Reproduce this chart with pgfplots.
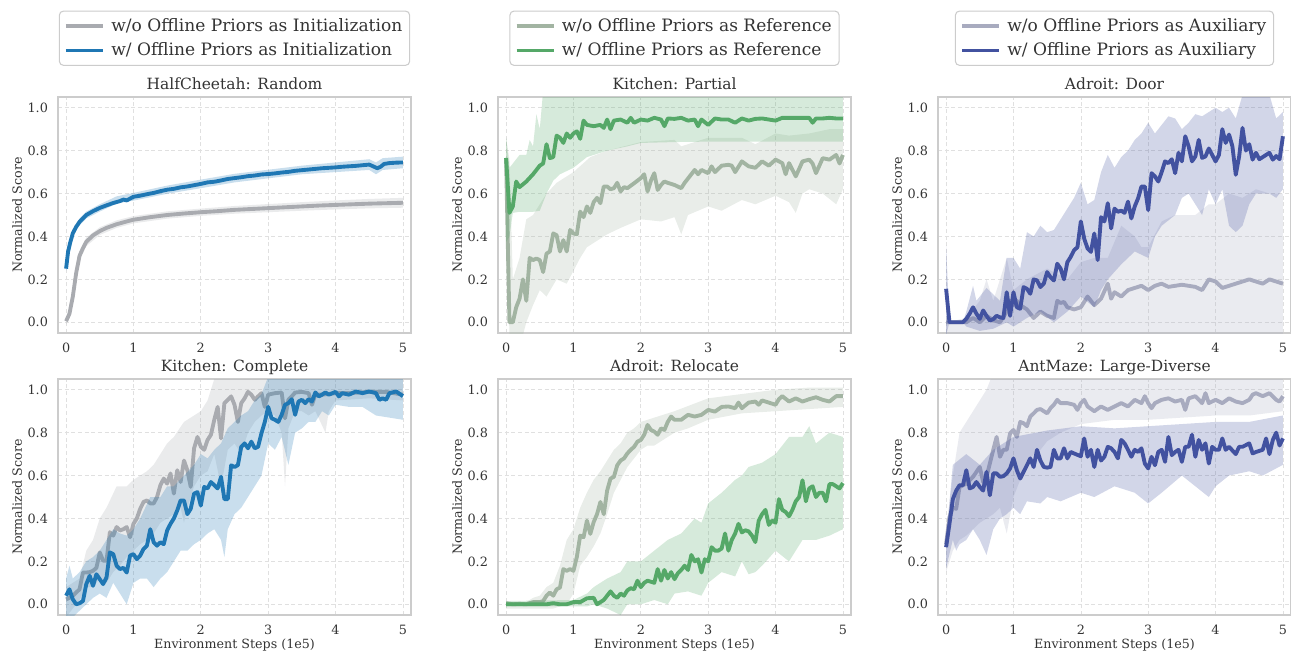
\documentclass[border=0pt]{standalone}
\usepackage{fontspec}
\setmainfont{DejaVu Serif}
\usepackage{pgfplots}
\pgfplotsset{compat=1.18}

\definecolor{cblue}{HTML}{1F77B4}
\definecolor{cgray}{HTML}{A9ABB0}
\definecolor{cgreen}{HTML}{55A868}
\definecolor{cgrgreen}{HTML}{A2B4A2}
\definecolor{cnavy}{HTML}{4252A0}
\definecolor{clav}{HTML}{A8ABBF}
\definecolor{txt}{HTML}{333333}

\pgfplotsset{
  panel/.style={
    scale only axis, width=264.75pt, height=177pt,
    xmin=-0.12, xmax=5.12, ymin=-0.05, ymax=1.05,
    xtick={0,1,2,3,4,5}, ytick={0,0.2,0.4,0.6,0.8,1.0},
    yticklabel style={/pgf/number format/fixed, /pgf/number format/fixed zerofill, /pgf/number format/precision=1},
    /pgf/number format/assume math mode=true,
    tick label style={font=\fontsize{9.6}{9.6}\selectfont, text=txt},
    xticklabel style={yshift=-4pt},
    yticklabel style={xshift=-4pt},
    major tick length=0pt,
    grid=major, grid style={densely dashed, black!12, line width=0.5pt},
    axis line style={draw=black!20, line width=1.7pt},
    ylabel={Normalized Score},
    every axis y label/.style={at={(axis description cs:-0.116,0.5)}, rotate=90, anchor=center, font=\fontsize{9.5}{9.5}\selectfont, text=txt},
    every axis x label/.style={at={(axis description cs:0.5,-0.127)}, anchor=center, font=\fontsize{9.5}{9.5}\selectfont, text=txt},
    every axis title/.style={at={(0.5,1.033)}, anchor=base, font=\fontsize{11.6}{11.6}\selectfont, text=txt},
    legend style={at={(0.5,1.132)}, anchor=south, draw=black!20, line width=0.8pt, rounded corners=3pt,
      font=\fontsize{12.8}{12.8}\selectfont, text=txt, inner xsep=3.5pt, inner ysep=3.5pt, row sep=3.2pt,
      /tikz/every odd column/.append style={column sep=2.5pt}},
    legend cell align=left,
    legend image code/.code={\draw[##1] (0pt,0pt) -- (28pt,0pt);},
  },
  % a band is one closed outline: the upper edge left to right, then the lower edge right to left
  band/.style={draw=none, fill=#1, fill opacity=0.24, forget plot},
  mline/.style={#1, line width=2.9pt, line join=round},
}

\begin{document}
\begin{tikzpicture}

% ---------- HalfCheetah: Random ----------
\begin{axis}[panel, at={(43.5pt,-249.75pt)}, anchor=south west, title={HalfCheetah: Random}]
\addplot[band=cgray] coordinates {(0,0.02) (0.05,0.06) (0.1,0.14) (0.15,0.25) (0.2,0.33) (0.3,0.395) (0.5,0.443) (0.75,0.475) (1.0,0.495) (1.5,0.517) (2.0,0.53) (2.5,0.542) (3.0,0.551) (3.5,0.56) (4.0,0.568) (4.5,0.575) (5.0,0.58)
  (5.0,0.534) (4.5,0.531) (4.0,0.526) (3.5,0.52) (3.0,0.513) (2.5,0.506) (2.0,0.496) (1.5,0.483) (1.0,0.461) (0.75,0.44) (0.5,0.407) (0.3,0.355) (0.2,0.29) (0.15,0.21) (0.1,0.1) (0.05,0.02) (0,-0.01)} -- cycle;
\addplot[mline=cgray] coordinates {(0,0.005) (0.05,0.04) (0.1,0.12) (0.15,0.23) (0.2,0.31) (0.25,0.345) (0.3,0.375) (0.4,0.405) (0.5,0.425) (0.6,0.44) (0.75,0.457) (0.9,0.47) (1.0,0.478) (1.25,0.49) (1.5,0.5) (1.75,0.507) (2.0,0.513) (2.25,0.518) (2.5,0.524) (2.75,0.528) (3.0,0.532) (3.25,0.536) (3.5,0.54) (3.75,0.544) (4.0,0.547) (4.25,0.55) (4.5,0.553) (4.75,0.555) (5.0,0.557)};
\addlegendentry{w/o Offline Priors as Initialization}
\addplot[band=cblue] coordinates {(0,0.26) (0.05,0.37) (0.1,0.43) (0.2,0.484) (0.3,0.516) (0.5,0.55) (0.75,0.587) (1.0,0.603) (1.5,0.637) (2.0,0.665) (2.5,0.692) (3.0,0.711) (3.5,0.73) (4.0,0.745) (4.5,0.76) (4.6,0.745) (4.7,0.765) (5.0,0.772)
  (5.0,0.718) (4.7,0.71) (4.6,0.69) (4.5,0.71) (4.0,0.7) (3.5,0.69) (3.0,0.671) (2.5,0.652) (2.0,0.625) (1.5,0.599) (1.0,0.567) (0.75,0.553) (0.5,0.516) (0.3,0.484) (0.2,0.452) (0.1,0.40) (0.05,0.33) (0,0.24)} -- cycle;
\addplot[mline=cblue] coordinates {(0,0.25) (0.03,0.33) (0.06,0.37) (0.1,0.415) (0.15,0.445) (0.2,0.468) (0.3,0.5) (0.4,0.518) (0.5,0.533) (0.6,0.545) (0.7,0.556) (0.8,0.565) (0.85,0.572) (0.9,0.568) (1.0,0.585) (1.1,0.59) (1.2,0.597) (1.3,0.603) (1.4,0.611) (1.5,0.618) (1.6,0.622) (1.7,0.629) (1.8,0.633) (1.9,0.639) (2.0,0.645) (2.1,0.652) (2.2,0.655) (2.3,0.661) (2.4,0.668) (2.5,0.672) (2.6,0.676) (2.7,0.681) (2.8,0.684) (2.9,0.689) (3.0,0.691) (3.1,0.694) (3.2,0.698) (3.3,0.701) (3.4,0.706) (3.5,0.709) (3.6,0.712) (3.7,0.715) (3.8,0.718) (3.9,0.72) (4.0,0.722) (4.1,0.725) (4.2,0.727) (4.3,0.729) (4.4,0.732) (4.5,0.735) (4.55,0.728) (4.62,0.718) (4.67,0.725) (4.72,0.738) (4.8,0.742) (4.9,0.744) (5.0,0.745)};
\addlegendentry{w/ Offline Priors as Initialization}
\end{axis}

% ---------- Kitchen: Partial ----------
\begin{axis}[panel, at={(373.5pt,-249.75pt)}, anchor=south west, title={Kitchen: Partial}]
\addplot[band=cgrgreen] coordinates {(0,0.86) (0.05,0.76) (0.1,0.2) (0.15,0.25) (0.2,0.3) (0.3,0.48) (0.4,0.5) (0.5,0.55) (0.6,0.6) (0.75,0.65) (1.0,0.7) (1.25,0.77) (1.5,0.8) (2.0,0.84) (2.5,0.85) (2.6,0.82) (3.0,0.86) (3.5,0.86) (3.7,0.83) (4.0,0.88) (4.2,0.87) (4.5,0.88) (4.8,0.9) (5.0,0.9)
  (5.0,0.62) (4.9,0.55) (4.7,0.6) (4.5,0.62) (4.4,0.6) (4.3,0.51) (4.2,0.56) (4.0,0.59) (3.7,0.55) (3.5,0.57) (3.2,0.52) (3.0,0.54) (2.7,0.5) (2.6,0.41) (2.5,0.49) (2.3,0.47) (2.0,0.48) (1.7,0.44) (1.5,0.41) (1.35,0.38) (1.2,0.35) (1.1,0.3) (1.0,0.24) (0.9,0.18) (0.75,0.2) (0.6,0.12) (0.5,0.15) (0.4,0.08) (0.3,0.0) (0.25,-0.06) (0.05,-0.06) (0,0.65)} -- cycle;
\addplot[mline=cgrgreen] coordinates {(0,0.76) (0.03,0.3) (0.05,0.0) (0.1,0.0) (0.15,0.07) (0.2,0.11) (0.25,0.2) (0.3,0.1) (0.35,0.3) (0.4,0.29) (0.45,0.297) (0.5,0.29) (0.55,0.234) (0.6,0.32) (0.65,0.33) (0.7,0.414) (0.75,0.406) (0.8,0.33) (0.85,0.383) (0.9,0.33) (0.95,0.43) (1.0,0.414) (1.05,0.41) (1.1,0.516) (1.15,0.49) (1.2,0.54) (1.25,0.51) (1.3,0.56) (1.35,0.58) (1.4,0.555) (1.45,0.633) (1.5,0.633) (1.55,0.62) (1.6,0.625) (1.65,0.65) (1.7,0.61) (1.75,0.63) (1.8,0.625) (1.9,0.648) (2.0,0.672) (2.05,0.69) (2.1,0.61) (2.15,0.66) (2.2,0.695) (2.25,0.617) (2.3,0.64) (2.35,0.656) (2.4,0.65) (2.5,0.64) (2.6,0.625) (2.65,0.65) (2.7,0.67) (2.8,0.71) (2.85,0.69) (2.9,0.71) (3.0,0.695) (3.05,0.727) (3.1,0.7) (3.2,0.73) (3.3,0.734) (3.35,0.73) (3.4,0.7) (3.5,0.75) (3.6,0.727) (3.7,0.72) (3.8,0.75) (3.9,0.73) (4.0,0.758) (4.1,0.742) (4.15,0.69) (4.2,0.742) (4.3,0.68) (4.4,0.75) (4.5,0.758) (4.55,0.74) (4.6,0.695) (4.7,0.765) (4.8,0.758) (4.9,0.78) (4.95,0.74) (5.0,0.78)};
\addlegendentry{w/o Offline Priors as Reference}
\addplot[band=cgreen] coordinates {(0,0.86) (0.05,0.72) (0.1,0.74) (0.2,0.78) (0.3,0.78) (0.35,0.85) (0.4,0.82) (0.45,0.97) (0.5,0.9) (0.55,1.08) (1.0,1.08) (2.0,1.08) (3.0,1.08) (4.0,1.08) (5.0,1.08)
  (5.0,0.842) (4.0,0.842) (3.0,0.842) (2.5,0.84) (2.0,0.836) (1.8,0.82) (1.5,0.8) (1.2,0.77) (1.0,0.72) (0.8,0.69) (0.7,0.66) (0.6,0.6) (0.5,0.52) (0.4,0.515) (0.3,0.515) (0.2,0.515) (0.1,0.51) (0.05,0.4) (0,0.375)} -- cycle;
\addplot[mline=cgreen] coordinates {(0,0.766) (0.05,0.51) (0.1,0.54) (0.15,0.656) (0.2,0.63) (0.3,0.656) (0.4,0.69) (0.5,0.73) (0.55,0.74) (0.6,0.83) (0.65,0.765) (0.7,0.77) (0.75,0.87) (0.8,0.86) (0.85,0.836) (0.9,0.88) (0.95,0.86) (1.0,0.88) (1.05,0.89) (1.1,0.855) (1.15,0.94) (1.2,0.92) (1.3,0.914) (1.4,0.92) (1.45,0.906) (1.5,0.945) (1.55,0.9) (1.6,0.94) (1.7,0.945) (1.8,0.93) (1.85,0.953) (1.9,0.93) (2.0,0.945) (2.1,0.94) (2.2,0.953) (2.3,0.945) (2.35,0.914) (2.4,0.95) (2.5,0.948) (2.6,0.953) (2.7,0.94) (2.8,0.945) (2.85,0.914) (2.9,0.945) (3.0,0.92) (3.1,0.95) (3.2,0.945) (3.3,0.945) (3.4,0.93) (3.5,0.95) (3.6,0.94) (3.7,0.948) (3.8,0.95) (3.9,0.945) (4.0,0.94) (4.1,0.953) (4.2,0.953) (4.3,0.953) (4.4,0.953) (4.5,0.953) (4.55,0.93) (4.6,0.95) (4.7,0.95) (4.8,0.953) (4.9,0.95) (5.0,0.95)};
\addlegendentry{w/ Offline Priors as Reference}
\end{axis}

% ---------- Adroit: Door ----------
\begin{axis}[panel, at={(703.5pt,-249.75pt)}, anchor=south west, title={Adroit: Door}]
\addplot[band=clav] coordinates {(0,0.0) (0.3,0.02) (0.5,0.1) (0.6,0.2) (0.7,0.1) (0.9,0.3) (1.0,0.15) (1.2,0.2) (1.5,0.25) (1.8,0.2) (2.0,0.28) (2.2,0.3) (2.4,0.3) (2.6,0.45) (2.8,0.4) (2.9,0.35) (3.0,0.35) (3.2,0.47) (3.4,0.5) (3.5,0.5) (3.7,0.5) (3.9,0.55) (4.0,0.55) (4.2,0.6) (4.4,0.58) (4.6,0.62) (4.8,0.6) (5.0,0.6)
  (5.0,-0.07) (0,-0.07)} -- cycle;
\addplot[mline=clav] coordinates {(0,0.0) (0.3,0.0) (0.4,0.02) (0.5,0.0) (0.6,0.03) (0.7,0.01) (0.8,0.0) (0.9,0.05) (0.95,0.1) (1.0,0.08) (1.05,0.1) (1.1,0.08) (1.2,0.06) (1.3,0.02) (1.4,0.05) (1.5,0.03) (1.6,0.02) (1.65,0.1) (1.7,0.09) (1.75,0.095) (1.8,0.07) (1.9,0.06) (2.0,0.07) (2.1,0.12) (2.2,0.08) (2.3,0.11) (2.4,0.18) (2.45,0.11) (2.5,0.14) (2.6,0.12) (2.7,0.15) (2.8,0.16) (2.9,0.17) (3.0,0.15) (3.1,0.17) (3.2,0.18) (3.3,0.165) (3.4,0.17) (3.5,0.175) (3.6,0.17) (3.7,0.165) (3.8,0.15) (3.9,0.2) (4.0,0.19) (4.1,0.16) (4.2,0.17) (4.3,0.18) (4.4,0.19) (4.5,0.2) (4.6,0.19) (4.7,0.18) (4.8,0.2) (4.9,0.19) (5.0,0.18)};
\addlegendentry{w/o Offline Priors as Auxiliary}
\addplot[band=cnavy] coordinates {(0,0.36) (0.05,0.0) (0.25,0.0) (0.3,0.05) (0.4,0.17) (0.45,0.1) (0.5,0.12) (0.6,0.16) (0.7,0.13) (0.8,0.1) (0.9,0.3) (1.0,0.3) (1.1,0.25) (1.2,0.42) (1.3,0.4) (1.4,0.45) (1.5,0.42) (1.6,0.43) (1.7,0.48) (1.8,0.53) (1.9,0.58) (2.0,0.65) (2.1,0.55) (2.2,0.57) (2.3,0.7) (2.4,0.78) (2.5,0.72) (2.6,0.77) (2.7,0.8) (2.8,0.85) (2.9,0.88) (3.0,0.93) (3.1,0.88) (3.2,0.92) (3.3,0.96) (3.4,0.95) (3.5,0.9) (3.6,0.93) (3.7,0.97) (3.8,0.96) (3.9,0.98) (4.0,1.0) (4.1,0.98) (4.2,1.0) (4.3,0.95) (4.4,1.06) (4.6,1.08) (4.8,1.06) (4.9,0.95) (5.0,0.98)
  (5.0,0.62) (4.9,0.58) (4.8,0.6) (4.6,0.6) (4.5,0.55) (4.4,0.45) (4.3,0.42) (4.2,0.45) (4.1,0.62) (4.0,0.55) (3.9,0.62) (3.8,0.5) (3.7,0.55) (3.6,0.6) (3.5,0.58) (3.4,0.5) (3.2,0.45) (3.1,0.4) (3.0,0.3) (2.8,0.33) (2.6,0.27) (2.4,0.2) (2.3,0.15) (2.2,0.07) (2.0,0.12) (1.8,0.05) (1.6,0.0) (1.4,0.05) (1.2,0.02) (1.1,0.0) (1.0,-0.02) (0.9,0.0) (0.7,-0.03) (0.5,-0.04) (0.3,-0.02) (0.25,0.0) (0.05,0.0) (0,-0.06)} -- cycle;
\addplot[mline=cnavy] coordinates {(0,0.156) (0.05,0.0) (0.1,0.0) (0.15,0.0) (0.2,0.0) (0.25,0.0) (0.3,0.016) (0.35,0.04) (0.4,0.07) (0.45,0.04) (0.5,0.016) (0.55,0.055) (0.6,0.03) (0.65,0.008) (0.7,0.015) (0.75,0.03) (0.8,0.023) (0.85,0.02) (0.9,0.14) (0.95,0.03) (1.0,0.14) (1.05,0.07) (1.1,0.063) (1.15,0.164) (1.2,0.156) (1.25,0.133) (1.3,0.2) (1.35,0.195) (1.4,0.164) (1.45,0.18) (1.5,0.234) (1.55,0.21) (1.6,0.195) (1.65,0.273) (1.7,0.25) (1.75,0.2) (1.8,0.28) (1.85,0.305) (1.9,0.336) (1.95,0.35) (2.0,0.47) (2.05,0.39) (2.1,0.344) (2.15,0.328) (2.2,0.414) (2.25,0.29) (2.3,0.49) (2.35,0.47) (2.4,0.555) (2.45,0.4375) (2.5,0.53) (2.55,0.515) (2.6,0.52) (2.65,0.51) (2.7,0.5625) (2.75,0.484) (2.8,0.54) (2.85,0.578) (2.9,0.633) (2.95,0.633) (3.0,0.523) (3.05,0.695) (3.1,0.68) (3.15,0.656) (3.2,0.7) (3.25,0.75) (3.3,0.742) (3.35,0.76) (3.4,0.695) (3.45,0.79) (3.5,0.75) (3.55,0.867) (3.6,0.82) (3.65,0.75) (3.7,0.773) (3.75,0.85) (3.8,0.766) (3.85,0.773) (3.9,0.81) (3.95,0.78) (4.0,0.75) (4.05,0.78) (4.1,0.9) (4.15,0.836) (4.2,0.875) (4.25,0.82) (4.3,0.6875) (4.35,0.773) (4.4,0.906) (4.45,0.8) (4.5,0.83) (4.55,0.758) (4.6,0.79) (4.65,0.76) (4.7,0.77) (4.8,0.79) (4.85,0.758) (4.9,0.775) (4.95,0.76) (5.0,0.867)};
\addlegendentry{w/ Offline Priors as Auxiliary}
\end{axis}

% ---------- Kitchen: Complete ----------
\begin{axis}[panel, at={(43.5pt,-461.25pt)}, anchor=south west, title={Kitchen: Complete}, xlabel={Environment Steps (1e5)}]
\addplot[band=cgray] coordinates {(0,0.08) (0.1,0.1) (0.2,0.12) (0.3,0.25) (0.4,0.3) (0.5,0.4) (0.6,0.45) (0.75,0.55) (0.9,0.55) (1.0,0.58) (1.1,0.6) (1.2,0.62) (1.3,0.65) (1.4,0.7) (1.5,0.75) (1.6,0.78) (1.75,0.85) (1.9,0.88) (2.0,0.9) (2.1,0.95) (2.2,1.05) (2.3,1.08) (3.0,1.08) (4.0,1.08) (5.0,1.08)
  (5.0,0.95) (4.5,0.96) (4.0,0.95) (3.9,0.9) (3.85,0.8) (3.7,0.9) (3.6,0.88) (3.5,0.9) (3.4,0.9) (3.3,0.82) (3.25,0.55) (3.2,0.8) (3.1,0.88) (3.0,0.9) (2.9,0.88) (2.8,0.85) (2.7,0.8) (2.6,0.7) (2.5,0.75) (2.4,0.72) (2.3,0.55) (2.2,0.7) (2.1,0.62) (2.0,0.6) (1.9,0.55) (1.8,0.45) (1.75,0.38) (1.7,0.45) (1.6,0.42) (1.5,0.4) (1.4,0.38) (1.3,0.33) (1.2,0.3) (1.1,0.28) (1.0,0.25) (0.9,0.22) (0.8,0.18) (0.7,0.15) (0.6,0.1) (0.5,0.12) (0.4,0.08) (0.3,0.08) (0.2,0.02) (0.1,-0.02) (0,-0.06)} -- cycle;
\addplot[mline=cgray] coordinates {(0,0.023) (0.05,0.03) (0.1,0.04) (0.15,0.055) (0.2,0.07) (0.25,0.148) (0.3,0.148) (0.35,0.15) (0.4,0.156) (0.45,0.17) (0.5,0.242) (0.55,0.203) (0.6,0.203) (0.65,0.336) (0.7,0.32) (0.75,0.36) (0.8,0.344) (0.85,0.35) (0.9,0.36) (0.95,0.3125) (1.0,0.375) (1.05,0.4) (1.1,0.445) (1.15,0.477) (1.2,0.484) (1.25,0.47) (1.3,0.47) (1.35,0.5) (1.4,0.555) (1.45,0.586) (1.5,0.5625) (1.55,0.61) (1.6,0.516) (1.65,0.625) (1.7,0.57) (1.75,0.67) (1.8,0.625) (1.85,0.547) (1.9,0.727) (1.95,0.78) (2.0,0.734) (2.05,0.72) (2.1,0.766) (2.15,0.79) (2.2,0.86) (2.25,0.92) (2.3,0.773) (2.35,0.9375) (2.4,0.953) (2.45,0.969) (2.5,0.93) (2.55,0.85) (2.6,0.9375) (2.65,0.96) (2.7,0.99) (2.75,0.977) (2.8,0.953) (2.85,0.969) (2.9,0.984) (2.95,0.92) (3.0,0.977) (3.1,0.984) (3.2,0.987) (3.25,0.867) (3.3,0.953) (3.35,0.969) (3.4,0.987) (3.5,0.99) (3.6,0.984) (3.65,0.93) (3.7,0.977) (3.8,0.977) (4.0,0.984) (4.25,0.985) (4.5,0.99) (4.75,0.99) (5.0,0.977)};
\addplot[band=cblue] coordinates {(0,0.12) (0.05,0.18) (0.1,0.12) (0.2,0.15) (0.3,0.2) (0.4,0.22) (0.5,0.25) (0.6,0.3) (0.7,0.35) (0.8,0.33) (0.9,0.32) (1.0,0.35) (1.1,0.4) (1.25,0.5) (1.4,0.5) (1.5,0.55) (1.6,0.55) (1.75,0.6) (1.9,0.65) (2.0,0.7) (2.1,0.68) (2.2,0.72) (2.3,0.75) (2.4,0.82) (2.5,0.85) (2.6,0.88) (2.7,0.9) (2.8,0.95) (2.9,0.98) (3.0,1.06) (4.0,1.06) (5.0,1.06)
  (5.0,0.86) (4.8,0.87) (4.6,0.88) (4.5,0.9) (4.4,0.92) (4.2,0.92) (4.0,0.93) (3.9,0.88) (3.8,0.9) (3.7,0.85) (3.6,0.85) (3.5,0.82) (3.4,0.8) (3.3,0.65) (3.2,0.78) (3.1,0.72) (3.0,0.75) (2.9,0.6) (2.8,0.55) (2.7,0.5) (2.6,0.45) (2.5,0.42) (2.4,0.35) (2.35,0.22) (2.3,0.3) (2.2,0.35) (2.1,0.33) (2.0,0.3) (1.9,0.28) (1.8,0.25) (1.7,0.25) (1.6,0.2) (1.5,0.15) (1.4,0.12) (1.3,0.08) (1.2,0.12) (1.1,0.12) (1.0,0.1) (0.9,0.0) (0.8,0.05) (0.7,0.1) (0.6,0.03) (0.5,0.05) (0.4,0.03) (0.3,0.0) (0.2,-0.03) (0.1,-0.06) (0,-0.06)} -- cycle;
\addplot[mline=cblue] coordinates {(0,0.04) (0.05,0.07) (0.1,0.023) (0.15,0.0) (0.2,0.005) (0.25,0.015) (0.3,0.094) (0.35,0.133) (0.4,0.086) (0.45,0.14) (0.5,0.117) (0.55,0.094) (0.6,0.125) (0.65,0.242) (0.7,0.234) (0.75,0.18) (0.8,0.164) (0.85,0.17) (0.9,0.148) (0.95,0.227) (1.0,0.234) (1.05,0.21) (1.1,0.227) (1.15,0.258) (1.2,0.273) (1.25,0.35) (1.3,0.289) (1.35,0.273) (1.4,0.289) (1.45,0.28) (1.5,0.344) (1.55,0.375) (1.6,0.4) (1.65,0.4375) (1.7,0.484) (1.75,0.484) (1.8,0.42) (1.85,0.445) (1.9,0.516) (1.95,0.523) (2.0,0.46) (2.05,0.547) (2.1,0.54) (2.15,0.57) (2.2,0.555) (2.25,0.54) (2.3,0.594) (2.35,0.49) (2.4,0.49) (2.45,0.648) (2.5,0.64) (2.55,0.648) (2.6,0.734) (2.65,0.75) (2.7,0.727) (2.75,0.758) (2.8,0.727) (2.85,0.734) (2.9,0.797) (2.95,0.85) (3.0,0.92) (3.05,0.867) (3.1,0.86) (3.15,0.85) (3.2,0.883) (3.25,0.93) (3.3,0.9375) (3.35,0.956) (3.4,0.883) (3.45,0.945) (3.5,0.953) (3.55,0.9375) (3.6,0.956) (3.65,0.945) (3.7,0.9875) (3.75,0.969) (3.8,0.977) (3.85,0.9875) (3.9,0.977) (4.0,0.99) (4.05,0.969) (4.1,0.984) (4.2,0.977) (4.3,0.992) (4.4,0.984) (4.5,0.992) (4.6,0.984) (4.65,0.953) (4.7,0.96) (4.75,0.953) (4.8,0.984) (4.9,0.992) (5.0,0.97)};
\end{axis}

% ---------- Adroit: Relocate ----------
\begin{axis}[panel, at={(373.5pt,-461.25pt)}, anchor=south west, title={Adroit: Relocate}, xlabel={Environment Steps (1e5)}]
\addplot[band=cgrgreen] coordinates {(0,0.01) (0.3,0.01) (0.4,0.03) (0.5,0.04) (0.6,0.08) (0.7,0.1) (0.8,0.18) (0.9,0.3) (1.0,0.35) (1.1,0.45) (1.2,0.52) (1.3,0.58) (1.4,0.62) (1.5,0.67) (1.6,0.72) (1.7,0.75) (1.8,0.8) (1.9,0.82) (2.0,0.85) (2.2,0.87) (2.5,0.9) (3.0,0.96) (3.5,0.98) (4.0,1.0) (4.5,1.01) (5.0,1.01)
  (5.0,0.92) (4.5,0.91) (4.0,0.9) (3.5,0.89) (3.0,0.86) (2.7,0.82) (2.5,0.8) (2.3,0.76) (2.2,0.74) (2.1,0.74) (2.0,0.72) (1.9,0.68) (1.8,0.64) (1.7,0.58) (1.6,0.52) (1.5,0.42) (1.4,0.33) (1.3,0.27) (1.2,0.22) (1.1,0.18) (1.0,0.05) (0.9,0.0) (0.8,-0.01) (0.7,-0.02) (0.5,-0.02) (0,-0.02)} -- cycle;
\addplot[mline=cgrgreen] coordinates {(0,0.005) (0.1,0.0) (0.2,0.002) (0.3,0.0) (0.35,0.005) (0.4,0.01) (0.5,0.01) (0.55,0.015) (0.6,0.04) (0.65,0.055) (0.7,0.04) (0.75,0.07) (0.8,0.078) (0.85,0.164) (0.9,0.156) (0.95,0.164) (1.0,0.156) (1.05,0.22) (1.1,0.32) (1.15,0.3125) (1.2,0.39) (1.25,0.328) (1.3,0.383) (1.35,0.42) (1.4,0.477) (1.45,0.42) (1.5,0.53) (1.55,0.586) (1.6,0.594) (1.65,0.648) (1.7,0.67) (1.75,0.68) (1.8,0.703) (1.85,0.72) (1.9,0.734) (1.95,0.758) (2.0,0.766) (2.05,0.79) (2.1,0.836) (2.15,0.8125) (2.2,0.805) (2.25,0.79) (2.3,0.82) (2.35,0.8125) (2.4,0.85) (2.45,0.875) (2.5,0.86) (2.6,0.86) (2.7,0.883) (2.8,0.875) (2.9,0.883) (3.0,0.906) (3.1,0.898) (3.2,0.92) (3.3,0.922) (3.4,0.914) (3.45,0.94) (3.5,0.914) (3.6,0.94) (3.7,0.945) (3.75,0.93) (3.8,0.95) (3.9,0.94) (4.0,0.93) (4.05,0.956) (4.1,0.97) (4.2,0.945) (4.3,0.96) (4.4,0.945) (4.5,0.956) (4.6,0.965) (4.7,0.953) (4.8,0.945) (4.9,0.97) (5.0,0.97)};
\addplot[band=cgreen] coordinates {(0,0.015) (1.0,0.02) (1.2,0.05) (1.3,0.08) (1.5,0.12) (1.7,0.15) (1.8,0.2) (2.0,0.2) (2.2,0.25) (2.4,0.3) (2.6,0.33) (2.8,0.4) (2.9,0.38) (3.0,0.47) (3.2,0.52) (3.4,0.58) (3.5,0.6) (3.6,0.64) (3.8,0.66) (4.0,0.7) (4.2,0.78) (4.4,0.78) (4.5,0.83) (4.6,0.75) (4.8,0.8) (5.0,0.78)
  (5.0,0.35) (4.8,0.32) (4.6,0.3) (4.4,0.3) (4.2,0.2) (4.0,0.25) (3.8,0.18) (3.7,0.15) (3.6,0.14) (3.5,0.2) (3.4,0.13) (3.2,0.15) (3.0,0.1) (2.9,0.04) (2.7,0.06) (2.5,0.05) (2.4,0.0) (2.2,0.02) (2.0,0.0) (1.8,0.0) (1.7,-0.05) (1.5,-0.02) (1.3,0.0) (1.2,-0.01) (0,-0.01)} -- cycle;
\addplot[mline=cgreen] coordinates {(0,0.0) (0.6,0.0) (0.7,0.005) (0.8,0.0) (0.9,0.0) (1.0,0.01) (1.1,0.01) (1.2,0.028) (1.3,0.03) (1.35,0.0) (1.45,0.02) (1.5,0.04) (1.55,0.06) (1.6,0.04) (1.65,0.03) (1.7,0.05) (1.75,0.04) (1.8,0.065) (1.85,0.075) (1.9,0.07) (1.95,0.11) (2.0,0.08) (2.05,0.1) (2.1,0.11) (2.2,0.10) (2.25,0.164) (2.3,0.11) (2.35,0.16) (2.4,0.12) (2.45,0.15) (2.5,0.117) (2.55,0.145) (2.6,0.16) (2.65,0.18) (2.7,0.16) (2.75,0.23) (2.8,0.2) (2.85,0.21) (2.9,0.148) (2.95,0.21) (3.0,0.2) (3.05,0.266) (3.1,0.25) (3.15,0.25) (3.2,0.26) (3.25,0.33) (3.3,0.25) (3.35,0.3) (3.4,0.33) (3.45,0.375) (3.5,0.335) (3.55,0.345) (3.6,0.34) (3.65,0.32) (3.7,0.29) (3.75,0.39) (3.8,0.42) (3.85,0.44) (3.9,0.37) (3.95,0.39) (4.0,0.38) (4.05,0.49) (4.1,0.44) (4.15,0.43) (4.2,0.41) (4.25,0.44) (4.3,0.48) (4.35,0.5) (4.4,0.578) (4.45,0.48) (4.5,0.54) (4.55,0.55) (4.6,0.5) (4.65,0.52) (4.7,0.52) (4.75,0.48) (4.8,0.56) (4.85,0.56) (4.9,0.55) (4.95,0.54) (5.0,0.565)};
\end{axis}

% ---------- AntMaze: Large-Diverse ----------
\begin{axis}[panel, at={(703.5pt,-461.25pt)}, anchor=south west, title={AntMaze: Large-Diverse}, xlabel={Environment Steps (1e5)}]
\addplot[band=clav] coordinates {(0,0.35) (0.1,0.6) (0.2,0.8) (0.4,0.9) (0.6,1.0) (0.7,1.08) (1.0,1.08) (2.0,1.08) (3.0,1.08) (4.0,1.08) (5.0,1.08)
  (5.0,0.9) (4.5,0.88) (4.0,0.88) (3.5,0.87) (3.0,0.86) (2.5,0.86) (2.0,0.84) (1.7,0.8) (1.5,0.76) (1.4,0.72) (1.3,0.7) (1.2,0.65) (1.1,0.58) (1.0,0.5) (0.9,0.33) (0.8,0.45) (0.7,0.42) (0.6,0.4) (0.5,0.38) (0.4,0.35) (0.3,0.32) (0.2,0.3) (0.1,0.25) (0,0.15)} -- cycle;
\addplot[mline=clav] coordinates {(0,0.28) (0.05,0.406) (0.1,0.45) (0.15,0.445) (0.2,0.547) (0.3,0.5625) (0.4,0.594) (0.5,0.64) (0.55,0.57) (0.6,0.594) (0.7,0.72) (0.75,0.78) (0.8,0.6875) (0.85,0.72) (0.9,0.72) (0.95,0.797) (1.0,0.8125) (1.05,0.78) (1.1,0.85) (1.15,0.844) (1.2,0.83) (1.25,0.875) (1.3,0.89) (1.35,0.906) (1.4,0.91) (1.5,0.89) (1.55,0.914) (1.6,0.93) (1.65,0.953) (1.7,0.9375) (1.8,0.9375) (1.9,0.93) (1.95,0.906) (2.0,0.9375) (2.05,0.953) (2.1,0.922) (2.2,0.9) (2.3,0.922) (2.4,0.906) (2.5,0.922) (2.6,0.9375) (2.7,0.922) (2.8,0.953) (2.9,0.9375) (2.95,0.97) (3.0,0.9375) (3.05,0.914) (3.1,0.9375) (3.2,0.953) (3.3,0.96) (3.4,0.945) (3.5,0.953) (3.55,0.906) (3.6,0.96) (3.7,0.97) (3.8,0.9375) (3.85,0.984) (3.9,0.9375) (4.0,0.953) (4.1,0.9375) (4.2,0.96) (4.3,0.945) (4.4,0.9375) (4.5,0.953) (4.55,0.977) (4.6,0.984) (4.7,0.97) (4.8,0.984) (4.9,0.953) (4.95,0.945) (5.0,0.97)};
\addplot[band=cnavy] coordinates {(0,0.3) (0.1,0.65) (0.3,0.7) (0.5,0.65) (0.7,0.72) (1.0,0.78) (1.5,0.81) (2.0,0.83) (2.5,0.82) (3.0,0.83) (3.5,0.84) (4.0,0.85) (4.5,0.85) (5.0,0.88)
  (5.0,0.65) (4.7,0.6) (4.5,0.62) (4.2,0.6) (4.0,0.55) (3.9,0.5) (3.7,0.55) (3.5,0.6) (3.2,0.52) (3.0,0.47) (2.8,0.52) (2.5,0.55) (2.2,0.5) (2.0,0.52) (1.7,0.48) (1.5,0.5) (1.4,0.47) (1.2,0.48) (1.1,0.42) (1.0,0.45) (0.9,0.42) (0.8,0.4) (0.7,0.35) (0.6,0.23) (0.5,0.3) (0.4,0.35) (0.3,0.3) (0.2,0.28) (0.15,0.25) (0.1,0.3) (0,0.17)} -- cycle;
\addplot[mline=cnavy] coordinates {(0,0.266) (0.05,0.375) (0.1,0.49) (0.15,0.53) (0.2,0.555) (0.25,0.555) (0.3,0.625) (0.35,0.54) (0.4,0.547) (0.45,0.57) (0.5,0.547) (0.55,0.53) (0.6,0.617) (0.65,0.508) (0.7,0.61) (0.75,0.61) (0.8,0.594) (0.85,0.597) (0.9,0.61) (0.95,0.633) (1.0,0.68) (1.05,0.625) (1.1,0.586) (1.15,0.617) (1.2,0.648) (1.25,0.68) (1.3,0.64) (1.35,0.72) (1.4,0.67) (1.45,0.64) (1.5,0.637) (1.55,0.64) (1.6,0.72) (1.65,0.68) (1.7,0.68) (1.75,0.727) (1.8,0.68) (1.85,0.71) (1.9,0.703) (2.0,0.69) (2.05,0.773) (2.1,0.6875) (2.15,0.72) (2.2,0.64) (2.25,0.72) (2.3,0.67) (2.35,0.6875) (2.4,0.734) (2.45,0.727) (2.5,0.71) (2.55,0.68) (2.6,0.766) (2.65,0.75) (2.7,0.72) (2.75,0.6875) (2.8,0.72) (2.85,0.71) (2.9,0.727) (2.95,0.656) (3.0,0.633) (3.05,0.6875) (3.1,0.648) (3.15,0.71) (3.2,0.72) (3.25,0.664) (3.3,0.78) (3.35,0.695) (3.4,0.71) (3.45,0.72) (3.5,0.664) (3.55,0.734) (3.6,0.734) (3.65,0.79) (3.7,0.6875) (3.75,0.766) (3.8,0.72) (3.85,0.75) (3.9,0.656) (3.95,0.734) (4.0,0.72) (4.05,0.72) (4.1,0.773) (4.15,0.72) (4.2,0.734) (4.3,0.70) (4.35,0.734) (4.4,0.734) (4.5,0.75) (4.55,0.703) (4.6,0.71) (4.7,0.72) (4.75,0.773) (4.8,0.70) (4.85,0.766) (4.9,0.80) (4.95,0.74) (5.0,0.773)};
\end{axis}
\pgfresetboundingbox
\useasboundingbox (0,0) rectangle (968.25pt,-490.5pt);
\end{tikzpicture}
\end{document}
